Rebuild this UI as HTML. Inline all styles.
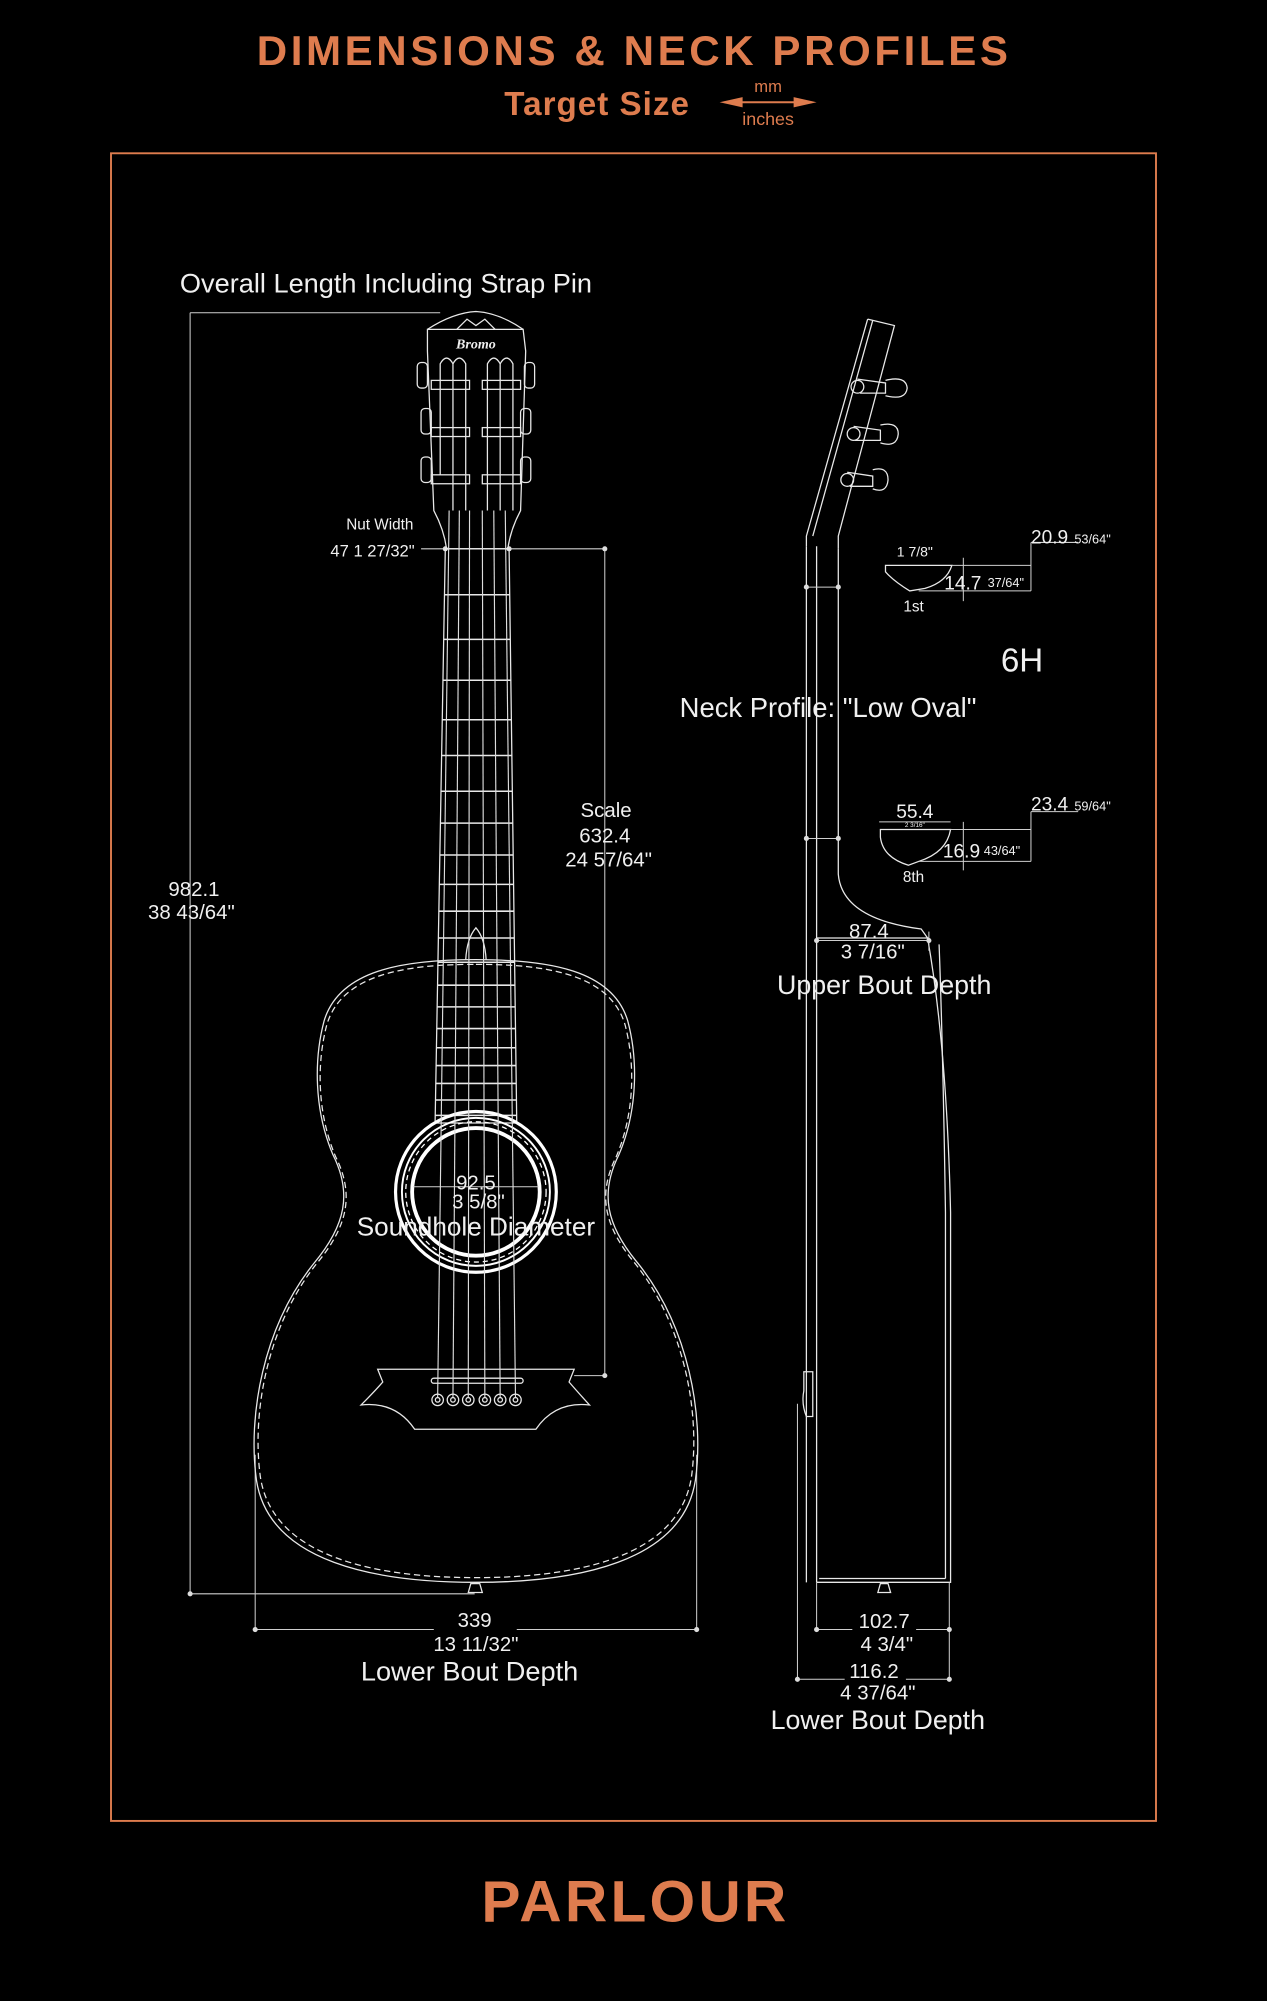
<!DOCTYPE html>
<html><head><meta charset="utf-8"><style>
html,body{margin:0;padding:0;background:#000;}
svg{display:block}
.t{font-family:"Liberation Sans",sans-serif;fill:#f0f0f0}
.o{font-family:"Liberation Sans",sans-serif;fill:#de7c4e;font-weight:bold}
.l{stroke:#e8e8e8;fill:none;stroke-width:1}
.d{stroke:#cfcfcf;fill:none;stroke-width:0.8}
</style></head><body>
<svg width="1267" height="2001" viewBox="0 0 993 1568" xmlns="http://www.w3.org/2000/svg">
<rect width="993" height="1568" fill="#000"/>
<text class="o" x="497" y="51" font-size="33" text-anchor="middle" letter-spacing="2.8">DIMENSIONS &amp; NECK PROFILES</text>
<text class="o" x="468" y="90" font-size="26" text-anchor="middle" letter-spacing="0.8">Target Size</text>
<text x="602" y="72" font-size="13" text-anchor="middle" fill="#de7c4e" font-family="Liberation Sans,sans-serif">mm</text>
<text x="602" y="98" font-size="14" text-anchor="middle" fill="#de7c4e" font-family="Liberation Sans,sans-serif">inches</text>
<line x1="568" y1="80" x2="636" y2="80" stroke="#de7c4e" stroke-width="1.5"/>
<polygon points="564,80 582,76 582,84" fill="#de7c4e"/><polygon points="640,80 622,76 622,84" fill="#de7c4e"/>
<rect x="87" y="120" width="819" height="1307" fill="none" stroke="#de7c4e" stroke-width="1.5"/>
<text class="o" x="498" y="1506" font-size="46" text-anchor="middle" letter-spacing="2.5">PARLOUR</text>

<!-- FRONT VIEW -->
<text class="t" x="141" y="229" font-size="21.3">Overall Length Including Strap Pin</text>
<g class="d">
<line x1="149" y1="245" x2="345" y2="245"/><line x1="149" y1="245" x2="149" y2="1249"/><line x1="149" y1="1249" x2="372" y2="1249"/>
<line x1="400" y1="430" x2="474" y2="430"/><line x1="474" y1="430" x2="474" y2="1078"/><line x1="450" y1="1078" x2="474" y2="1078"/>
<line x1="200" y1="1140" x2="200" y2="1277"/><line x1="546" y1="1140" x2="546" y2="1277"/>
<line x1="200" y1="1277" x2="340" y2="1277"/><line x1="405" y1="1277" x2="546" y2="1277"/>
<line x1="330" y1="430" x2="349" y2="430"/>
</g>
<g fill="#ddd"><circle cx="149" cy="1249" r="2"/><circle cx="474" cy="430" r="2"/><circle cx="474" cy="1078" r="2"/><circle cx="200" cy="1277" r="2"/><circle cx="546" cy="1277" r="2"/><circle cx="349" cy="430" r="2"/><circle cx="399" cy="430" r="2"/></g>
<text class="t" x="152" y="702" font-size="16" text-anchor="middle">982.1</text>
<text class="t" x="150" y="720" font-size="16" text-anchor="middle">38 43/64"</text>
<text class="t" x="475" y="640" font-size="16" text-anchor="middle">Scale</text>
<text class="t" x="474" y="660" font-size="16" text-anchor="middle">632.4</text>
<text class="t" x="477" y="679" font-size="16" text-anchor="middle">24 57/64"</text>
<text class="t" x="324" y="415" font-size="12" text-anchor="end">Nut Width</text>
<text class="t" x="325" y="436" font-size="13" text-anchor="end">47 1 27/32"</text>

<!-- headstock -->
<g class="l">
<path d="M335,258 L410,258 L412,275 L408,400 Q400,415 398,430 L350,430 Q348,415 340,400 L335,275 Z"/>
<path d="M335,258 Q355,245 373,244 Q391,245 410,258" />
<path d="M358,258 L366,250 L373,255 L380,250 L388,258"/>
<path d="M345,372 L345,285 Q350,276 355,285 L355,400"/>
<path d="M365,400 L365,285 Q360,276 355,285"/>
<path d="M382,400 L382,285 Q387,276 392,285 L392,372 L392,400"/>
<path d="M402,400 L402,285 Q397,276 392,285"/>
<rect x="338" y="298" width="30" height="7"/><rect x="378" y="298" width="30" height="7"/>
<rect x="338" y="335" width="30" height="7"/><rect x="378" y="335" width="30" height="7"/>
<rect x="338" y="372" width="30" height="7"/><rect x="378" y="372" width="30" height="7"/>
<rect x="327" y="284" width="8" height="20" rx="3"/><rect x="411" y="284" width="8" height="20" rx="3"/>
<rect x="330" y="320" width="8" height="20" rx="3"/><rect x="408" y="320" width="8" height="20" rx="3"/>
<rect x="330" y="358" width="8" height="20" rx="3"/><rect x="408" y="358" width="8" height="20" rx="3"/>
</g>
<text x="373" y="273" font-size="11" font-style="italic" font-weight="bold" fill="#eee" text-anchor="middle" font-family="Liberation Serif,serif">Bromo</text>

<!-- fretboard -->
<defs><clipPath id="fb"><polygon points="349,430 399,430 405,880 341,880"/></clipPath></defs>
<polygon class="l" points="349,430 399,430 405,880 341,880" stroke-width="1.2"/>
<g clip-path="url(#fb)" stroke="#e8e8e8" stroke-width="1.2">
<line x1="330" x2="420" y1="466" y2="466"/><line x1="330" x2="420" y1="501" y2="501"/><line x1="330" x2="420" y1="533" y2="533"/><line x1="330" x2="420" y1="564" y2="564"/><line x1="330" x2="420" y1="592" y2="592"/><line x1="330" x2="420" y1="620" y2="620"/><line x1="330" x2="420" y1="645" y2="645"/><line x1="330" x2="420" y1="670" y2="670"/><line x1="330" x2="420" y1="693" y2="693"/><line x1="330" x2="420" y1="714" y2="714"/><line x1="330" x2="420" y1="735" y2="735"/><line x1="330" x2="420" y1="754" y2="754"/><line x1="330" x2="420" y1="772" y2="772"/><line x1="330" x2="420" y1="789" y2="789"/><line x1="330" x2="420" y1="806" y2="806"/><line x1="330" x2="420" y1="821" y2="821"/><line x1="330" x2="420" y1="835" y2="835"/><line x1="330" x2="420" y1="849" y2="849"/><line x1="330" x2="420" y1="862" y2="862"/><line x1="330" x2="420" y1="874" y2="874"/>
</g>
<path class="l" d="M365,752 Q366,735 373,727 Q380,735 381,752" />
<!-- body -->
<path class="l" stroke-width="1.3" d="M373,752 C430,752 480,760 492,800 C500,830 500,870 485,905 C470,935 475,960 500,990 C540,1040 552,1110 545,1160 C535,1225 450,1240 373,1240 C296,1240 211,1225 201,1160 C194,1110 206,1040 246,990 C271,960 276,935 261,905 C246,870 246,830 254,800 C266,760 316,752 373,752 Z"/>
<path class="l" stroke-dasharray="5,3" transform="translate(373,995) scale(0.982,0.985) translate(-373,-995)" d="M373,752 C430,752 480,760 492,800 C500,830 500,870 485,905 C470,935 475,960 500,990 C540,1040 552,1110 545,1160 C535,1225 450,1240 373,1240 C296,1240 211,1225 201,1160 C194,1110 206,1040 246,990 C271,960 276,935 261,905 C246,870 246,830 254,800 C266,760 316,752 373,752 Z"/>
<!-- soundhole -->
<circle cx="373" cy="934" r="63" stroke="#fff" stroke-width="2.5" fill="none"/>
<circle cx="373" cy="934" r="58" stroke="#fff" stroke-width="1.5" fill="none"/>
<circle cx="373" cy="934" r="55" stroke="#fff" stroke-width="1" stroke-dasharray="4,3" fill="none"/>
<circle cx="373" cy="934" r="50" stroke="#fff" stroke-width="3" fill="none"/>
<line class="d" x1="324" y1="930" x2="422" y2="930"/>
<!-- bridge -->
<path class="l" d="M296,1073 L450,1073 L446,1083 Q452,1090 462,1101 Q435,1098 420,1120 L325,1120 Q310,1098 283,1101 Q294,1090 300,1083 Z"/>
<rect class="l" x="338" y="1080" width="72" height="4" rx="2"/>
<g class="l"><circle cx="343" cy="1097" r="4.5"/><circle cx="355" cy="1097" r="4.5"/><circle cx="367" cy="1097" r="4.5"/><circle cx="380" cy="1097" r="4.5"/><circle cx="392" cy="1097" r="4.5"/><circle cx="404" cy="1097" r="4.5"/>
<circle cx="343" cy="1097" r="1.8"/><circle cx="355" cy="1097" r="1.8"/><circle cx="367" cy="1097" r="1.8"/><circle cx="380" cy="1097" r="1.8"/><circle cx="392" cy="1097" r="1.8"/><circle cx="404" cy="1097" r="1.8"/></g>
<!-- strings -->
<g stroke="#ddd" stroke-width="0.9">
<line x1="352" y1="400" x2="343" y2="1095"/><line x1="360" y1="400" x2="355" y2="1095"/><line x1="368" y1="400" x2="367" y2="1095"/><line x1="378" y1="400" x2="380" y2="1095"/><line x1="387" y1="400" x2="392" y2="1095"/><line x1="396" y1="400" x2="404" y2="1095"/>
</g>
<path class="l" d="M367,1248 L369,1241 L376,1241 L378,1248 Z"/>
<text class="t" x="373" y="932" font-size="16" text-anchor="middle">92.5</text>
<text class="t" x="375" y="947" font-size="16" text-anchor="middle">3 5/8"</text>
<text class="t" x="373" y="968" font-size="20.5" text-anchor="middle">Soundhole Diameter</text>
<text class="t" x="372" y="1275" font-size="16" text-anchor="middle">339</text>
<text class="t" x="373" y="1294" font-size="16" text-anchor="middle">13 11/32"</text>
<text class="t" x="368" y="1317" font-size="21.3" text-anchor="middle">Lower Bout Depth</text>

<!-- SIDE VIEW -->
<g class="l">
<path d="M680,250 L701,255 L657,420 L657,430"/>
<path d="M680,250 L632,420 L632,428"/>
<path d="M684,251 L637,420"/>
<line x1="632" y1="428" x2="632" y2="1240"/>
<line x1="640" y1="428" x2="640" y2="1240"/>
<path d="M657,430 L657,685 Q660,720 722,728 L727,735 Q742,820 745,950 L745,1240 L640,1240"/>
<path d="M640,735 L728,735"/>
<path d="M642,1237 L741,1237"/>
<path d="M736,740 Q739,820 741,950 L741,1237"/>
<circle cx="672" cy="303" r="5"/><circle cx="669" cy="340" r="5"/><circle cx="664" cy="376" r="5"/>
<path d="M672,297 L694,300 L694,308 L674,308"/><path d="M694,298 Q710,294 711,304 Q710,314 694,310"/>
<path d="M669,334 L690,337 L690,345 L670,345"/><path d="M690,333 Q704,330 704,340 Q703,351 690,347"/>
<path d="M664,370 L684,373 L684,381 L666,381"/><path d="M684,368 Q696,365 696,376 Q695,387 684,383"/>
<path d="M630,1075 L637,1075 L637,1110 L632,1110 Q628,1100 630,1090 Z"/>
<path d="M688,1248 L690,1241 L696,1241 L698,1248 Z"/>
</g>
<g class="d">
<line x1="632" y1="460" x2="657" y2="460"/><line x1="632" y1="657" x2="657" y2="657"/>
<line x1="640" y1="737" x2="728" y2="737"/><line x1="728" y1="730" x2="728" y2="745"/>
<line x1="640" y1="1240" x2="640" y2="1277"/><line x1="744" y1="1240" x2="744" y2="1316"/><line x1="625" y1="1100" x2="625" y2="1316"/>
<line x1="640" y1="1277" x2="668" y2="1277"/><line x1="718" y1="1277" x2="744" y2="1277"/>
<line x1="625" y1="1316" x2="662" y2="1316"/><line x1="710" y1="1316" x2="744" y2="1316"/>
</g>
<g fill="#ddd"><circle cx="632" cy="460" r="2"/><circle cx="657" cy="460" r="2"/><circle cx="632" cy="657" r="2"/><circle cx="657" cy="657" r="2"/><circle cx="640" cy="737" r="2"/><circle cx="728" cy="737" r="2"/><circle cx="640" cy="1277" r="2"/><circle cx="744" cy="1277" r="2"/><circle cx="625" cy="1316" r="2"/><circle cx="744" cy="1316" r="2"/></g>
<text class="t" x="681" y="735" font-size="16" text-anchor="middle">87.4</text>
<text class="t" x="684" y="751" font-size="16" text-anchor="middle">3 7/16"</text>
<text class="t" x="693" y="779" font-size="21" text-anchor="middle">Upper Bout Depth</text>
<text class="t" x="693" y="1276" font-size="16" text-anchor="middle">102.7</text>
<text class="t" x="695" y="1294" font-size="16" text-anchor="middle">4 3/4"</text>
<text class="t" x="685" y="1315" font-size="16" text-anchor="middle">116.2</text>
<text class="t" x="688" y="1332" font-size="16" text-anchor="middle">4 37/64"</text>
<text class="t" x="688" y="1355" font-size="21" text-anchor="middle">Lower Bout Depth</text>

<!-- neck profiles -->
<text class="t" x="801" y="526" font-size="26" text-anchor="middle">6H</text>
<text class="t" x="649" y="562" font-size="21.5" text-anchor="middle">Neck Profile: "Low Oval"</text>
<g class="l">
<path d="M694,443 L746,443 Q742,456 725,461 L713,463 Q700,455 694,448 Z"/>
<path d="M690,650 L745,650 Q742,668 720,675 L712,678 Q692,672 690,656 Z"/>
</g>
<g class="d">
<line x1="746" y1="443" x2="808" y2="443"/><line x1="720" y1="463" x2="808" y2="463"/><line x1="808" y1="425" x2="808" y2="463"/><line x1="808" y1="425" x2="845" y2="425"/><line x1="755" y1="437" x2="755" y2="471"/>
<line x1="689" y1="644" x2="745" y2="644"/>
<line x1="745" y1="650" x2="808" y2="650"/><line x1="720" y1="675" x2="808" y2="675"/><line x1="808" y1="636" x2="808" y2="675"/><line x1="808" y1="636" x2="845" y2="636"/><line x1="755" y1="644" x2="755" y2="682"/>
</g>
<text class="t" x="717" y="436" font-size="11" text-anchor="middle">1 7/8"</text>
<text class="t" x="716" y="479" font-size="12" text-anchor="middle">1st</text>
<text class="t" x="740" y="462" font-size="15">14.7</text><text class="t" x="774" y="460" font-size="10">37/64"</text>
<text class="t" x="808" y="426" font-size="15">20.9</text><text class="t" x="842" y="426" font-size="10">53/64"</text>
<text class="t" x="717" y="641" font-size="15" text-anchor="middle">55.4</text>
<text class="t" x="717" y="648" font-size="5" text-anchor="middle">2 3/16"</text>
<text class="t" x="716" y="691" font-size="12" text-anchor="middle">8th</text>
<text class="t" x="739" y="672" font-size="15">16.9</text><text class="t" x="771" y="670" font-size="10">43/64"</text>
<text class="t" x="808" y="635" font-size="15">23.4</text><text class="t" x="842" y="635" font-size="10">59/64"</text>
</svg>
</body></html>
